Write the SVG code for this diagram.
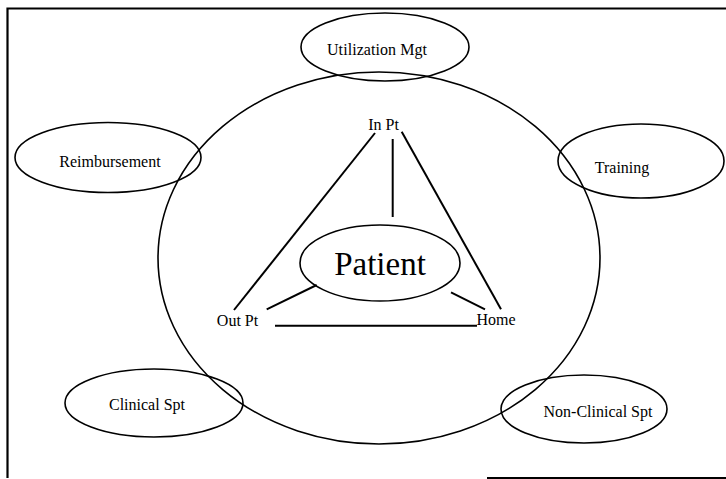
<svg xmlns="http://www.w3.org/2000/svg" width="726" height="479" viewBox="0 0 726 479">
<style>
.e{fill:none;stroke:#000;stroke-width:1.6}
.l{fill:none;stroke:#000;stroke-width:2}
.f{fill:none;stroke:#000;stroke-width:2.2}
text{font-family:"Liberation Serif","Times New Roman",serif;font-size:16px;fill:#000;text-anchor:middle}
</style>
<rect width="726" height="479" fill="#fff"/>
<g id="frame">
<path class="f" d="M726,8.5 H7.5 V478"/>
<path class="f" d="M487,478 H726" stroke="#555"/>
</g>
<g id="outer-circle"><ellipse class="e" cx="379" cy="258" rx="221" ry="186"/></g>
<g id="utilization"><ellipse class="e" cx="385" cy="47" rx="84" ry="34"/><text x="377" y="55" textLength="100">Utilization Mgt</text></g>
<g id="reimbursement"><ellipse class="e" cx="108" cy="157.5" rx="93" ry="35"/><text x="110" y="166.5">Reimbursement</text></g>
<g id="training"><ellipse class="e" cx="641" cy="161" rx="83" ry="37"/><text x="622" y="173">Training</text></g>
<g id="clinical"><ellipse class="e" cx="154" cy="403" rx="89" ry="34"/><text x="147" y="410">Clinical Spt</text></g>
<g id="nonclinical"><ellipse class="e" cx="584" cy="409" rx="83" ry="34"/><text x="598" y="416.5">Non-Clinical Spt</text></g>
<g id="patient"><ellipse class="e" cx="380" cy="263" rx="80" ry="38"/><text x="380" y="275" style="font-size:33px">Patient</text></g>
<g id="inpt"><text x="383.5" y="130">In Pt</text></g>
<g id="outpt"><text x="237.5" y="326">Out Pt</text></g>
<g id="home"><text x="496" y="325">Home</text></g>
<g id="connectors">
<line class="l" x1="375" y1="133" x2="234" y2="310"/>
<line class="l" x1="392.7" y1="139" x2="392.7" y2="217"/>
<line class="l" x1="401.7" y1="131.7" x2="501" y2="309.3"/>
<line class="l" x1="316.7" y1="285" x2="266.7" y2="309.3"/>
<line class="l" x1="451" y1="292.3" x2="485" y2="309.3"/>
<line class="l" x1="275" y1="325.7" x2="477" y2="325.7"/>
</g>
</svg>
